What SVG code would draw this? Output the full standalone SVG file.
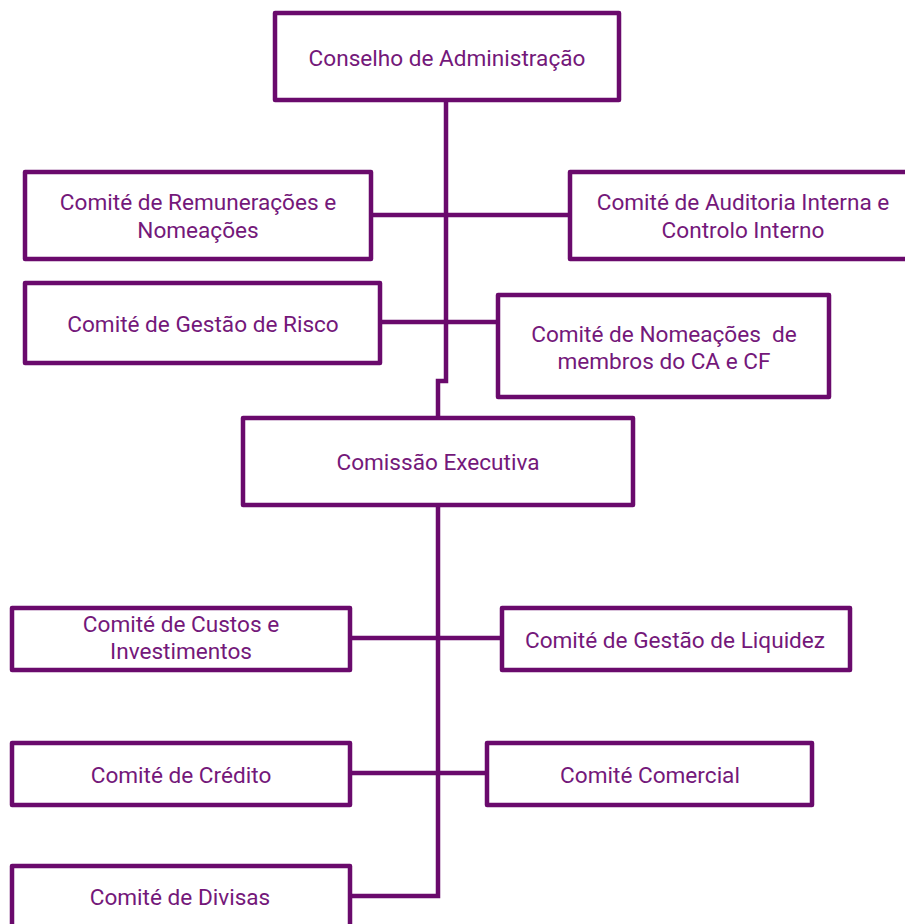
<svg xmlns="http://www.w3.org/2000/svg" width="905" height="924" viewBox="0 0 905 924">
<style>
.box{fill:#ffffff;stroke:#6a0a6c;stroke-width:4.5;stroke-linejoin:round}
.ln{fill:none;stroke:#6a0a6c;stroke-width:4.5}
text{font-family:Roboto,"Open Sans","Liberation Sans",sans-serif;font-size:22.6px;fill:#74187a;text-anchor:middle}
</style>
<rect width="905" height="924" fill="#ffffff"/>
<g id="connectors">
<path class="ln" d="M446,101 V381 H438 V418"/>
<path class="ln" d="M371,215 H570"/>
<path class="ln" d="M380,322 H498"/>
<path class="ln" d="M438,505 V896 H350"/>
<path class="ln" d="M350,638 H502"/>
<path class="ln" d="M350,773 H487"/>
</g>
<g id="n-conselho"><rect class="box" x="275" y="13" width="344" height="87"/><text x="447" y="66">Conselho de Administração</text></g>
<g id="n-remuneracoes"><rect class="box" x="25" y="172" width="346" height="87"/><text x="198" y="210">Comité de Remunerações e</text><text x="198" y="238">Nomeações</text></g>
<g id="n-auditoria"><rect class="box" x="570" y="172" width="345" height="87"/><text x="743" y="210">Comité de Auditoria Interna e</text><text x="743" y="238">Controlo Interno</text></g>
<g id="n-risco"><rect class="box" x="25" y="283" width="355" height="80"/><text x="203" y="332">Comité de Gestão de Risco</text></g>
<g id="n-nomeacoes-ca"><rect class="box" x="498" y="295" width="331" height="102"/><text x="664" y="342" xml:space="preserve">Comité de Nomeações  de</text><text x="664" y="369">membros do CA e CF</text></g>
<g id="n-comissao"><rect class="box" x="243" y="418" width="390" height="87"/><text x="438" y="470">Comissão Executiva</text></g>
<g id="n-custos"><rect class="box" x="12" y="608" width="338" height="62"/><text x="181" y="632">Comité de Custos e</text><text x="181" y="659">Investimentos</text></g>
<g id="n-liquidez"><rect class="box" x="502" y="608" width="348" height="62"/><text x="675" y="648">Comité de Gestão de Liquidez</text></g>
<g id="n-credito"><rect class="box" x="12" y="743" width="338" height="62"/><text x="181" y="783">Comité de Crédito</text></g>
<g id="n-comercial"><rect class="box" x="487" y="743" width="325" height="62"/><text x="650" y="783">Comité Comercial</text></g>
<g id="n-divisas"><rect class="box" x="12" y="866" width="338" height="80"/><text x="180" y="905">Comité de Divisas</text></g>
</svg>
